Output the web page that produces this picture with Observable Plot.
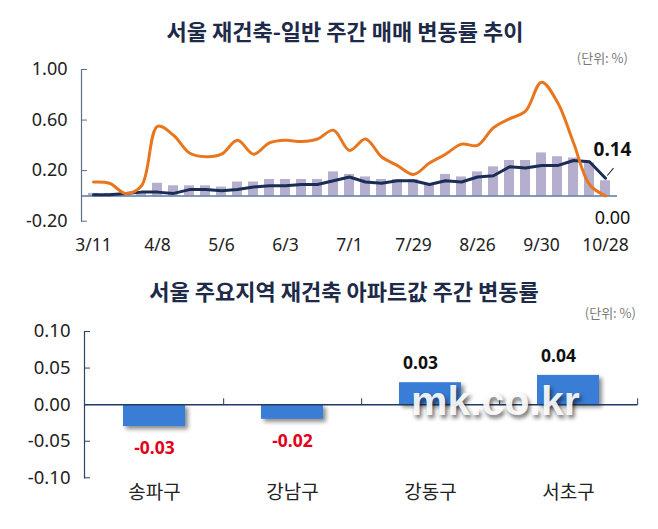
<!DOCTYPE html>
<html><head><meta charset="utf-8">
<script src="https://cdn.jsdelivr.net/npm/d3@7"></script>
<script src="https://cdn.jsdelivr.net/npm/@observablehq/plot@0.6"></script>
<style>
body{margin:0;background:#fff;}
#wrap{position:relative;width:658px;height:529px;overflow:hidden;font-family:"Noto Sans CJK KR","Noto Sans",sans-serif;}
.title{position:absolute;width:658px;text-align:center;font-weight:bold;font-size:22px;color:#1d2a48;line-height:1;white-space:nowrap;}
.unit{position:absolute;font-size:13px;color:#7a7a7a;line-height:1;white-space:nowrap;}
.chart{position:absolute;left:0;}
#bottom g[aria-label="bar"] rect{filter:drop-shadow(3px 3px 2px rgba(0,0,0,0.45));}
#wm{position:absolute;left:411px;top:381px;font-family:"Liberation Sans",Arial,sans-serif;font-weight:bold;font-size:41px;line-height:1;color:rgba(255,255,255,0.92);text-shadow:2px 3px 4px rgba(0,0,0,0.6);white-space:nowrap;}
</style>
</head><body>
<div id="wrap">
  <div class="chart" id="top" style="top:0"></div>
  <div class="chart" id="bottom" style="top:262px"></div>
  <div class="title" style="left:16px;top:19px">서울 재건축-일반 주간 매매 변동률 추이</div>
  <div class="unit" style="right:30px;top:51px">(단위: %)</div>
  <div class="title" style="left:15px;top:279px">서울 주요지역 재건축 아파트값 주간 변동률</div>
  <div class="unit" style="right:22px;top:306px">(단위: %)</div>
  <div id="wm">mk.co.kr</div>
</div>
<script>
// ---- Top chart data ----
const dates = ["3/11","3/18","3/25","4/1","4/8","4/15","4/22","4/29","5/6","5/13","5/20","5/27","6/3","6/10","6/17","6/24","7/1","7/8","7/15","7/22","7/29","8/5","8/12","8/19","8/26","9/2","9/9","9/23","9/30","10/7","10/14","10/21","10/28"];
const rebuild = [0.11,0.10,0.02,0.08,0.55,0.48,0.34,0.31,0.33,0.44,0.33,0.42,0.44,0.43,0.45,0.52,0.36,0.45,0.31,0.24,0.17,0.26,0.33,0.41,0.40,0.54,0.61,0.67,0.90,0.74,0.42,0.09,0.00];
const general = [0.01,0.01,0.02,0.03,0.03,0.02,0.05,0.05,0.04,0.05,0.07,0.08,0.08,0.09,0.09,0.12,0.15,0.11,0.10,0.12,0.12,0.09,0.12,0.11,0.15,0.16,0.23,0.22,0.24,0.24,0.28,0.27,0.14];
const overall = [0.02,0.02,0.02,0.03,0.10,0.08,0.08,0.08,0.07,0.11,0.11,0.13,0.13,0.13,0.13,0.19,0.17,0.15,0.13,0.13,0.13,0.09,0.17,0.15,0.19,0.23,0.28,0.28,0.34,0.31,0.30,0.26,0.12];
const xTickLabels = ["3/11","4/8","5/6","6/3","7/1","7/29","8/26","9/30","10/28"];
const yTicksTop = [-0.2, 0.2, 0.6, 1.0];

// ---- Bottom chart data ----
const districts = ["송파구","강남구","강동구","서초구"];
const districtValues = [-0.03,-0.02,0.03,0.04];
const yTicksBottom = [-0.1,-0.05,0,0.05,0.1];

const rows = dates.map((d,i)=>({date:d, rebuild:rebuild[i], general:general[i], overall:overall[i]}));
const last = rows[rows.length-1];
const dRows = districts.map((n,i)=>({name:n, value:districtValues[i]}));

const lineShape = {draw(ctx, l){ctx.moveTo(0,0); ctx.lineTo(0,-l);}};
const fmt = d => d.toFixed(2);

const topPlot = Plot.plot({
  width:658, height:262, marginTop:69, marginBottom:41.3, marginLeft:81, marginRight:41,
  style:{background:"transparent", fontFamily:"'Noto Sans',sans-serif", fontSize:"17px", color:"#222"},
  x:{type:"band", domain:dates, paddingInner:0.385, paddingOuter:0.19, axis:null},
  y:{domain:[-0.2,1.0], axis:null},
  marks:[
    Plot.barY(rows,{x:"date", y:"overall", fill:"#b6aecf"}),
    Plot.ruleY([0],{stroke:"#5877a3", strokeWidth:1.5}),
    Plot.frame({anchor:"left", stroke:"#5d6f88", strokeWidth:1.2}),
    Plot.axisY({ticks:yTicksTop, tickSize:-6, tickPadding:20, tickFormat:fmt, stroke:"#5d6f88", fontSize:18, label:null}),
    Plot.axisX({ticks:xTickLabels, tickSize:0, tickPadding:17, fontSize:17.5, label:null}),
    Plot.line(rows,{x:"date", y:"general", stroke:"#1b2d55", strokeWidth:3}),
    Plot.line(rows,{x:"date", y:"rebuild", stroke:"#e8761e", strokeWidth:3, curve:"catmull-rom"}),
    Plot.vector([last],{x:"date", y:"general", length:9, rotate:40, anchor:"start", dx:2, dy:-3, stroke:"#222", strokeWidth:1, shape:lineShape}),
    Plot.text([last],{x:"date", y:"general", text:d=>fmt(d.general), dx:7, dy:-28, fontWeight:"bold", fontSize:19, fill:"#111"}),
    Plot.text([last],{x:"date", y:"rebuild", text:d=>fmt(d.rebuild), dx:7, dy:22, fontSize:18, fill:"#111"})
  ]
});
document.getElementById("top").appendChild(topPlot);

const bML = 84, bMR = 20.7, bW = 658;
const bStep = (bW - bML - bMR) / districts.length;
const bottomPlot = Plot.plot({
  width:bW, height:267, marginTop:69, marginBottom:51.7, marginLeft:bML, marginRight:bMR,
  style:{background:"transparent", fontFamily:"'Noto Sans',sans-serif", fontSize:"17px", color:"#222"},
  x:{type:"band", domain:districts, paddingInner:0.55, paddingOuter:0.275, axis:null},
  y:{domain:[-0.1,0.1], axis:null},
  marks:[
    Plot.barY(dRows,{x:"name", y:"value", fill:"#3a7dd6"}),
    Plot.ruleY([0],{stroke:"#203a63", strokeWidth:1.5}),
    Plot.frame({anchor:"left", stroke:"#2b4266", strokeWidth:1.2}),
    Plot.axisY({ticks:yTicksBottom, tickSize:-6, tickPadding:20, tickFormat:fmt, stroke:"#2b4266", fontSize:18.5, label:null}),
    Plot.axisX({tickSize:0, tickPadding:8, fontSize:19, fontFamily:"'Noto Sans CJK KR',sans-serif", label:null}),
    Plot.vector(dRows,{x:"name", y:0, length:6, rotate:0, anchor:"start", dx:bStep/2, stroke:"#203a63", strokeWidth:1, shape:lineShape}),
    Plot.text(dRows,{filter:d=>d.value>=0, x:"name", y:"value", text:d=>fmt(d.value), dx:-10, dy:-19, fontWeight:"bold", fontSize:17.5, fill:"#111"}),
    Plot.text(dRows,{filter:d=>d.value<0, x:"name", y:"value", text:d=>fmt(d.value), dy:22, fontWeight:"bold", fontSize:17.5, fill:"#e3001b"})
  ]
});
document.getElementById("bottom").appendChild(bottomPlot);
</script>
</body></html>
